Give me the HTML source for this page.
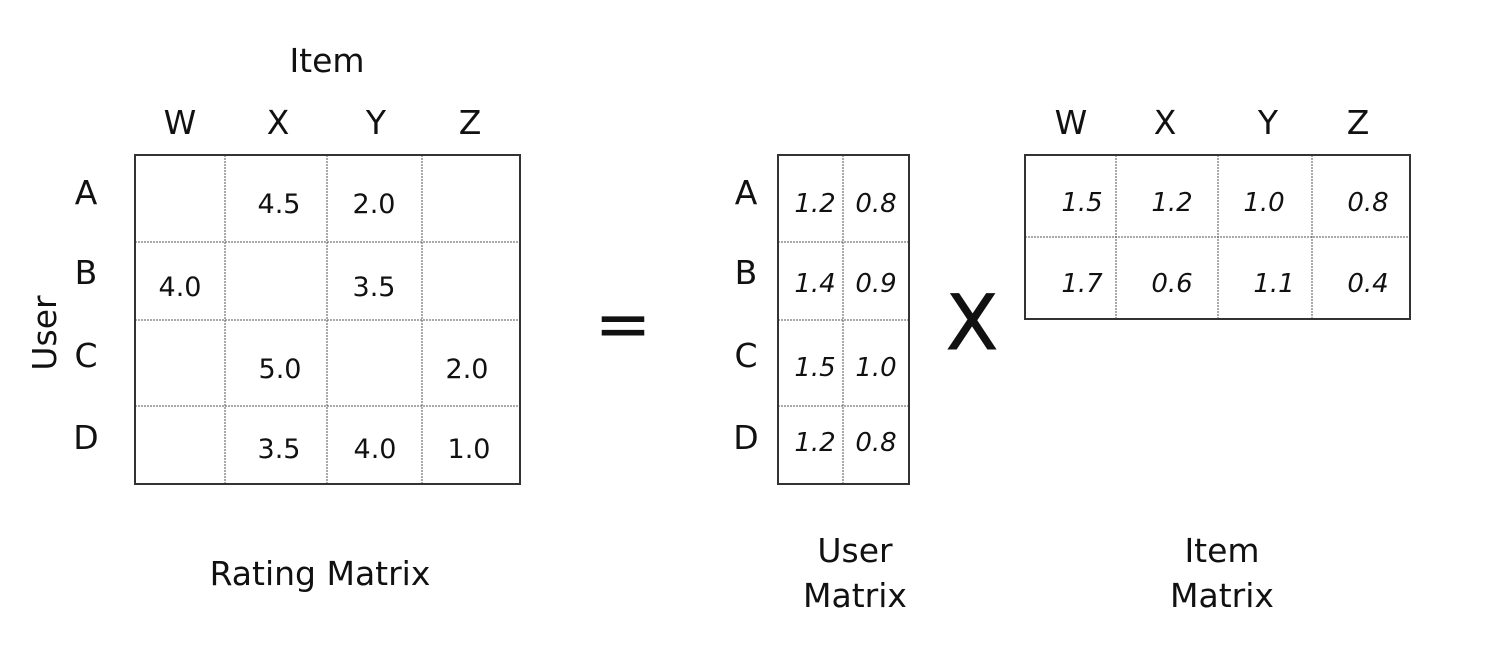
<!DOCTYPE html>
<html><head><style>
html,body{margin:0;padding:0;background:#fff;}
svg{display:block;}
text{font-family:"DejaVu Sans","Liberation Sans",sans-serif;fill:#111;}
.h{font-size:33px;text-anchor:middle;}
.n{font-size:27px;text-anchor:middle;}
.i{font-size:26px;font-style:italic;text-anchor:middle;}
</style></head><body>
<svg width="1496" height="654" viewBox="0 0 1496 654" xmlns="http://www.w3.org/2000/svg">
<rect width="1496" height="654" fill="#fff"/>
<g stroke="#555" stroke-width="1" stroke-dasharray="2,1" fill="none">
<line x1="225" y1="155" x2="225" y2="484"/><line x1="327" y1="155" x2="327" y2="484"/><line x1="422" y1="155" x2="422" y2="484"/>
<line x1="135" y1="242" x2="520" y2="242"/><line x1="135" y1="320" x2="520" y2="320"/><line x1="135" y1="406" x2="520" y2="406"/>
<line x1="843" y1="155" x2="843" y2="484"/>
<line x1="778" y1="242" x2="909" y2="242"/><line x1="778" y1="320" x2="909" y2="320"/><line x1="778" y1="406" x2="909" y2="406"/>
<line x1="1116" y1="155" x2="1116" y2="319"/><line x1="1218" y1="155" x2="1218" y2="319"/><line x1="1312" y1="155" x2="1312" y2="319"/>
<line x1="1025" y1="237" x2="1410" y2="237"/>
</g>
<g stroke="#333" stroke-width="2" fill="none">
<rect x="135" y="155" width="385" height="329"/>
<rect x="778" y="155" width="131" height="329"/>
<rect x="1025" y="155" width="385" height="164"/>
</g>
<text class="h" x="327" y="72">Item</text>
<text class="h" x="180" y="134">W</text><text class="h" x="278" y="134">X</text><text class="h" x="376" y="134">Y</text><text class="h" x="470" y="134">Z</text>
<text class="h" x="86" y="204">A</text><text class="h" x="86" y="284">B</text><text class="h" x="86" y="367">C</text><text class="h" x="86" y="449">D</text>
<text class="h" transform="translate(56,333) rotate(-90)">User</text>
<text class="n" x="279" y="213">4.5</text><text class="n" x="374" y="213">2.0</text>
<text class="n" x="180" y="296">4.0</text><text class="n" x="374" y="296">3.5</text>
<text class="n" x="280" y="378">5.0</text><text class="n" x="467" y="378">2.0</text>
<text class="n" x="279" y="458">3.5</text><text class="n" x="375" y="458">4.0</text><text class="n" x="469" y="458">1.0</text>
<text class="h" x="320" y="585">Rating Matrix</text>
<text x="623" y="347" style="font-size:68px;text-anchor:middle">=</text>
<text class="h" x="746" y="204">A</text><text class="h" x="746" y="284">B</text><text class="h" x="746" y="367">C</text><text class="h" x="746" y="449">D</text>
<text class="i" x="815" y="212">1.2</text><text class="i" x="876" y="212">0.8</text>
<text class="i" x="815" y="292">1.4</text><text class="i" x="876" y="292">0.9</text>
<text class="i" x="815" y="376">1.5</text><text class="i" x="876" y="376">1.0</text>
<text class="i" x="815" y="451">1.2</text><text class="i" x="876" y="451">0.8</text>
<text x="972" y="349" style="font-size:76px;text-anchor:middle;stroke:#111;stroke-width:1">X</text>
<text class="h" x="1071" y="134">W</text><text class="h" x="1165" y="134">X</text><text class="h" x="1268" y="134">Y</text><text class="h" x="1358" y="134">Z</text>
<text class="i" x="1082" y="211">1.5</text><text class="i" x="1172" y="211">1.2</text><text class="i" x="1264" y="211">1.0</text><text class="i" x="1368" y="211">0.8</text>
<text class="i" x="1082" y="292">1.7</text><text class="i" x="1172" y="292">0.6</text><text class="i" x="1274" y="292">1.1</text><text class="i" x="1368" y="292">0.4</text>
<text class="h" x="855" y="562">User</text><text class="h" x="855" y="607">Matrix</text>
<text class="h" x="1222" y="562">Item</text><text class="h" x="1222" y="607">Matrix</text>
</svg>
</body></html>
